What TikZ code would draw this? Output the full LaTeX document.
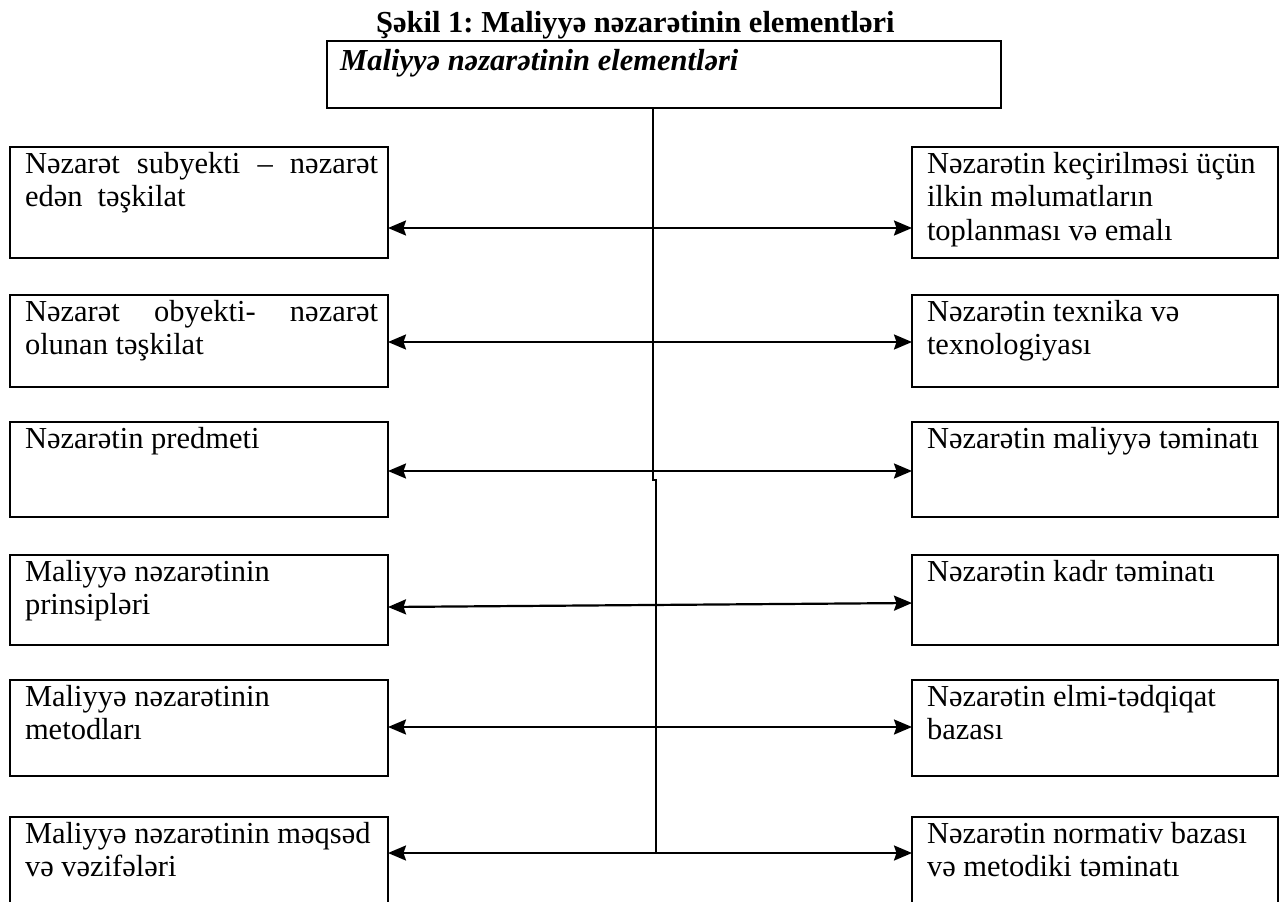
\documentclass[tikz,border=0pt]{standalone}
\usepackage{fontspec}
\setmainfont{Liberation Serif}
\usetikzlibrary{arrows.meta}
\frenchspacing
\newcommand{\fstrut}{\rule{0pt}{22pt}}
\begin{document}
\begin{tikzpicture}[x=1pt,y=-1pt,
  box/.style={draw=black, line width=2.4pt, rectangle, inner sep=0pt, outer sep=0pt, anchor=north west},
  txt/.style={anchor=north west, inner sep=0pt, outer sep=0pt, align=left, font=\fontsize{30.5}{33.5}\selectfont},
  conn/.style={line width=2.2pt, {Stealth[length=18pt,width=15pt,inset=2.5pt]}-{Stealth[length=18pt,width=15pt,inset=2.5pt]}},
  trunk/.style={line width=2.2pt}]
\useasboundingbox (0,0) rectangle (1285,902);
% title
\node[anchor=base west, inner sep=0pt, font=\bfseries\fontsize{30.5}{34}\selectfont] (title) at (376,32) {Şəkil 1: Maliyyə nəzarətinin elementləri};
% top box
\node[box, minimum width=674, minimum height=67] (T) at (327,41) {};
\node[anchor=base west, inner sep=0pt, font=\bfseries\itshape\fontsize{30.5}{33}\selectfont] (Tt) at (340,70) {Maliyyə nəzarətinin elementləri};
% left boxes
\node[box, minimum width=378, minimum height=111] (L1) at (10,147) {};
\node[box, minimum width=378, minimum height=92]  (L2) at (10,295) {};
\node[box, minimum width=378, minimum height=95]  (L3) at (10,422) {};
\node[box, minimum width=378, minimum height=90]  (L4) at (10,555) {};
\node[box, minimum width=378, minimum height=96]  (L5) at (10,680) {};
\node[box, minimum width=378, minimum height=90]  (L6) at (10,817) {};
% right boxes
\node[box, minimum width=366, minimum height=111] (R1) at (912,147) {};
\node[box, minimum width=366, minimum height=92]  (R2) at (912,295) {};
\node[box, minimum width=366, minimum height=95]  (R3) at (912,422) {};
\node[box, minimum width=366, minimum height=90]  (R4) at (912,555) {};
\node[box, minimum width=366, minimum height=96]  (R5) at (912,680) {};
\node[box, minimum width=366, minimum height=90]  (R6) at (912,817) {};
% left texts
\node[txt] (L1t) at (25,151) {\hbox to 353pt{\fstrut Nəzarət\hfill subyekti\hfill –\hfill nəzarət}\\edən\hspace{15pt}təşkilat};
\node[txt] (L2t) at (25,299) {\hbox to 353pt{\fstrut Nəzarət\hfill obyekti-\hfill nəzarət}\\olunan təşkilat};
\node[txt] (L3t) at (25,426) {\fstrut Nəzarətin predmeti};
\node[txt] (L4t) at (25,559) {\fstrut Maliyyə nəzarətinin\\prinsipləri};
\node[txt] (L5t) at (25,684) {\fstrut Maliyyə nəzarətinin\\metodları};
\node[txt] (L6t) at (25,821) {\fstrut Maliyyə nəzarətinin məqsəd\\və vəzifələri};
% right texts
\node[txt] (R1t) at (927,151) {\fstrut Nəzarətin keçirilməsi üçün\\ilkin məlumatların\\toplanması və emalı};
\node[txt] (R2t) at (927,299) {\fstrut Nəzarətin texnika və\\texnologiyası};
\node[txt] (R3t) at (927,426) {\fstrut Nəzarətin maliyyə təminatı};
\node[txt] (R4t) at (927,559) {\fstrut Nəzarətin kadr təminatı};
\node[txt] (R5t) at (927,684) {\fstrut Nəzarətin elmi-tədqiqat\\bazası};
\node[txt] (R6t) at (927,821) {\fstrut Nəzarətin normativ bazası\\və metodiki təminatı};
% trunk
\coordinate (k1) at (653,480);
\coordinate (k2) at (656,480);
\coordinate (tend) at (656,853);
\draw[trunk] (T.south -| k1) -- (k1) -- (k2) -- (tend);
% arrow levels
\coordinate (j1) at (653,228);
\coordinate (j2) at (653,342);
\coordinate (j3) at (653,471);
\coordinate (j4l) at (653,607);
\coordinate (j4r) at (653,603);
\coordinate (j5) at (656,727);
\coordinate (j6) at (656,853);
\draw[conn] (L1.east |- j1) -- (R1.west |- j1);
\draw[conn] (L2.east |- j2) -- (R2.west |- j2);
\draw[conn] (L3.east |- j3) -- (R3.west |- j3);
\draw[conn] (L4.east |- j4l) -- (R4.west |- j4r);
\draw[conn] (L5.east |- j5) -- (R5.west |- j5);
\draw[conn] (L6.east |- j6) -- (R6.west |- j6);
\end{tikzpicture}
\end{document}
